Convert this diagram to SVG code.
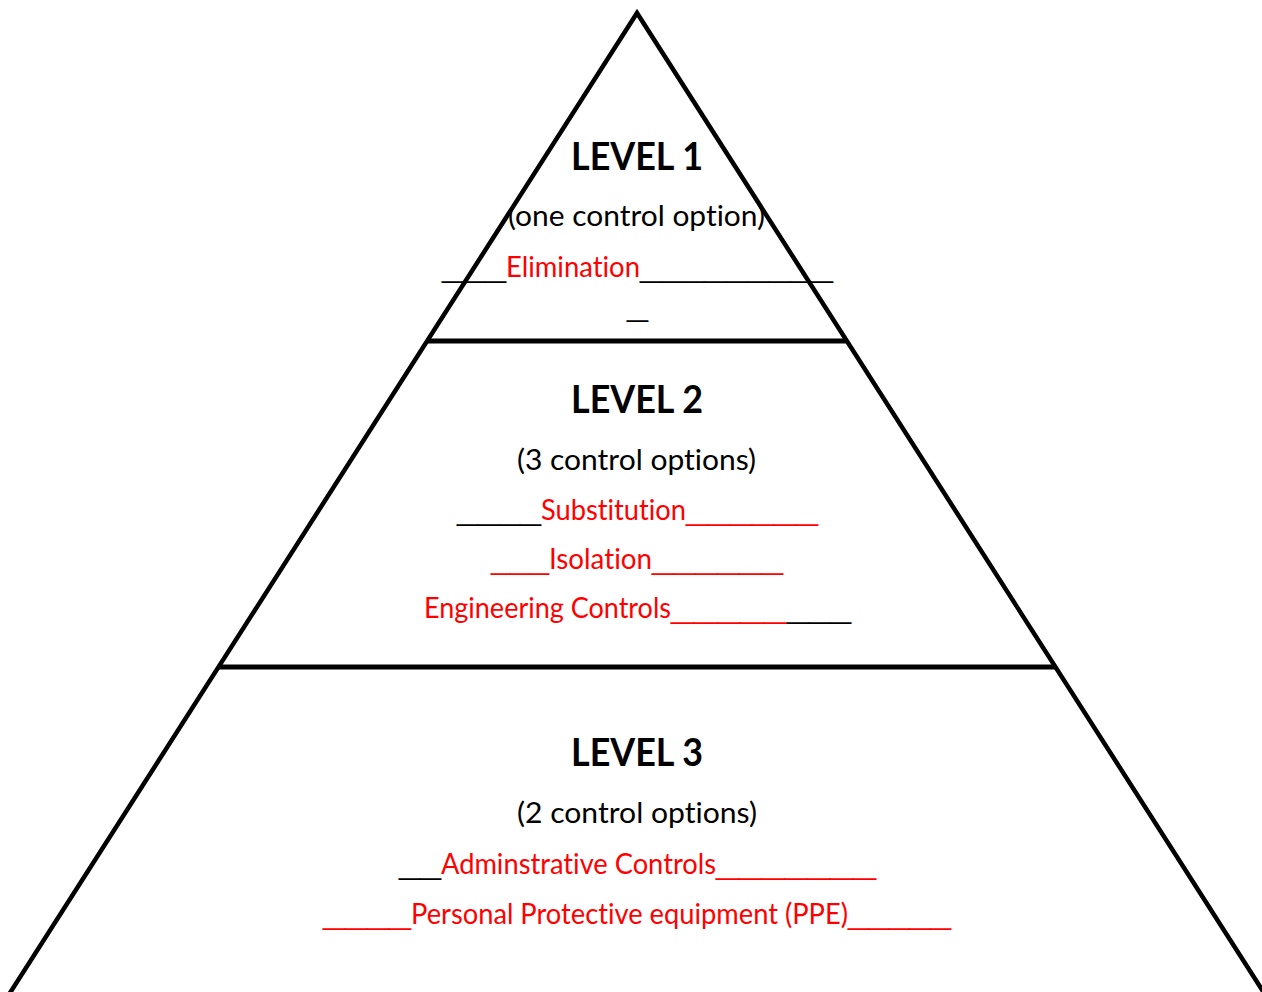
<svg xmlns="http://www.w3.org/2000/svg" width="1262" height="992" viewBox="0 0 1262 992">
  <style>
    .edge { fill: none; stroke: #000; stroke-width: 4.5; stroke-linejoin: miter; }
    .divider { stroke: #000; stroke-width: 5; }
    .title { font-family: Lato, "Liberation Sans", sans-serif; font-weight: bold; font-size: 38px; fill: #000; font-variant-ligatures: none; }
    .body { font-family: Lato, "Liberation Sans", sans-serif; font-size: 28.8px; fill: #000; font-variant-ligatures: none; }
    .rule { font-family: "Liberation Sans", sans-serif; font-size: 28px; }
    .red { fill: #FF0000; }
    .blk { fill: #000; }
  </style>
  <rect width="1262" height="992" fill="#fff"/>

  <!-- pyramid outline and tier dividers -->
  <g id="connectors">
    <path class="edge" d="M 8 996 L 637 13 L 1266 996"/>
    <line class="divider" x1="427" y1="341" x2="847" y2="341"/>
    <line class="divider" x1="218" y1="667" x2="1056" y2="667"/>
  </g>

  <!-- tier 1 -->
  <g id="level1">
    <text class="title" x="571" y="170" textLength="132" lengthAdjust="spacingAndGlyphs">LEVEL 1</text>
    <text class="body" x="508" y="226" textLength="257" lengthAdjust="spacingAndGlyphs">(one control option)</text>
    <text class="body" y="277"><tspan class="blk rule" x="442" textLength="64" lengthAdjust="spacingAndGlyphs">___</tspan><tspan class="red" x="506" textLength="134" lengthAdjust="spacingAndGlyphs">Elimination</tspan><tspan class="blk rule" x="640" textLength="193" lengthAdjust="spacingAndGlyphs">_________</tspan></text>
    <text class="body rule" x="627" y="316" textLength="21" lengthAdjust="spacingAndGlyphs">_</text>
  </g>

  <!-- tier 2 -->
  <g id="level2">
    <text class="title" x="571" y="413" textLength="132" lengthAdjust="spacingAndGlyphs">LEVEL 2</text>
    <text class="body" x="517" y="470" textLength="239" lengthAdjust="spacingAndGlyphs">(3 control options)</text>
    <text class="body" y="520"><tspan class="blk rule" x="457" textLength="84" lengthAdjust="spacingAndGlyphs">____</tspan><tspan class="red" x="541" textLength="145" lengthAdjust="spacingAndGlyphs">Substitution</tspan><tspan class="red rule" x="686" textLength="132" lengthAdjust="spacingAndGlyphs">______</tspan></text>
    <text class="body red" y="569"><tspan class="rule" x="491" textLength="58" lengthAdjust="spacingAndGlyphs">___</tspan><tspan x="549" textLength="103" lengthAdjust="spacingAndGlyphs">Isolation</tspan><tspan class="rule" x="652" textLength="131" lengthAdjust="spacingAndGlyphs">______</tspan></text>
    <text class="body" y="618"><tspan class="red" x="424" textLength="247" lengthAdjust="spacingAndGlyphs">Engineering Controls</tspan><tspan class="red rule" x="671" textLength="116" lengthAdjust="spacingAndGlyphs">_____</tspan><tspan class="blk rule" x="787" textLength="64" lengthAdjust="spacingAndGlyphs">___</tspan></text>
  </g>

  <!-- tier 3 -->
  <g id="level3">
    <text class="title" x="571" y="766" textLength="132" lengthAdjust="spacingAndGlyphs">LEVEL 3</text>
    <text class="body" x="517" y="823" textLength="240" lengthAdjust="spacingAndGlyphs">(2 control options)</text>
    <text class="body" y="874"><tspan class="blk rule" x="399" textLength="42" lengthAdjust="spacingAndGlyphs">__</tspan><tspan class="red" x="441" textLength="275" lengthAdjust="spacingAndGlyphs">Adminstrative Controls</tspan><tspan class="red rule" x="716" textLength="160" lengthAdjust="spacingAndGlyphs">_______</tspan></text>
    <text class="body red" y="924"><tspan class="rule" x="323" textLength="88" lengthAdjust="spacingAndGlyphs">____</tspan><tspan x="411" textLength="437" lengthAdjust="spacingAndGlyphs">Personal Protective equipment (PPE)</tspan><tspan class="rule" x="848" textLength="103" lengthAdjust="spacingAndGlyphs">_____</tspan></text>
  </g>
</svg>
